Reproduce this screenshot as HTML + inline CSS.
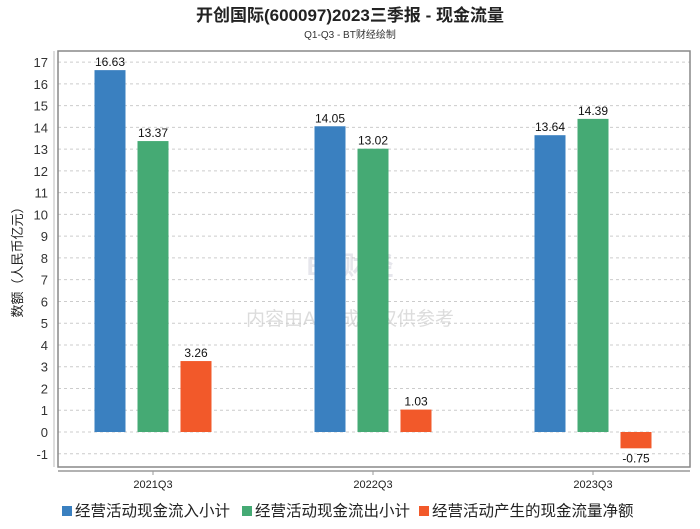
<!DOCTYPE html>
<html><head><meta charset="utf-8">
<style>
body{margin:0;background:#fff;}
svg text{font-family:"Liberation Sans","Noto Sans CJK SC",sans-serif;}
</style></head>
<body>
<svg id="c" width="700" height="524" xmlns="http://www.w3.org/2000/svg">
<rect width="700" height="524" fill="#fff"/>
<text x="350" y="21" text-anchor="middle" font-size="17" font-weight="bold" fill="#222">开创国际(600097)2023三季报 - 现金流量</text>
<text x="350" y="38" text-anchor="middle" font-size="10" fill="#333">Q1-Q3 - BT财经绘制</text>
<text x="350" y="275" text-anchor="middle" font-size="26" font-weight="bold" fill="#e6e6ec">BT财经</text>
<text x="350" y="325" text-anchor="middle" font-size="19" fill="#dcdcdc">内容由AI生成，仅供参考</text>
<g id="grid"></g>
<g id="bars"></g>
<rect x="58" y="51" width="632" height="416" fill="none" stroke="#888" stroke-width="1.5"/>
<line x1="58" y1="471" x2="690" y2="471" stroke="#999" stroke-width="1.5"/>
<line x1="54" y1="51" x2="54" y2="467" stroke="#bbb"/>
<text transform="translate(22,259) rotate(-90)" text-anchor="middle" font-size="13" fill="#222">数额（人民币亿元）</text>
<g id="legend"></g>
</svg>
<script>
const categories=["2021Q3","2022Q3","2023Q3"];
const inflow=[16.63,14.05,13.64];
const outflow=[13.37,13.02,14.39];
const net=[3.26,1.03,-0.75];
const yTicks=[-1,0,1,2,3,4,5,6,7,8,9,10,11,12,13,14,15,16,17];
const seriesNames=["经营活动现金流入小计","经营活动现金流出小计","经营活动产生的现金流量净额"];
const colors=["#3a80c0","#45aa74","#f2592a"];
const NS="http://www.w3.org/2000/svg";
const y=v=>432-v*21.76;
const xc=i=>153+i*220;
function mk(t,a,p){const e=document.createElementNS(NS,t);for(const k in a)e.setAttribute(k,a[k]);p.appendChild(e);return e;}
const grid=document.getElementById('grid');
yTicks.forEach(t=>{
  const l=mk('line',{x1:58,x2:690,y1:y(t),y2:y(t),stroke:'#ccc','stroke-dasharray':'3,3'},grid);
  
  
  const tx=mk('text',{x:48,y:y(t)+5,'text-anchor':'end','font-size':13,fill:'#333'},grid);
  tx.textContent=t;
  
  
});
const bars=document.getElementById('bars');
const series=[inflow,outflow,net];
categories.forEach((c,i)=>{
  series.forEach((s,j)=>{
    const v=s[i];const cx=xc(i)+(j-1)*43;
    const top=Math.min(y(v),y(0));const h=Math.abs(y(v)-y(0));
    const r=mk('rect',{x:cx-15.5,y:top,width:31,height:h,fill:colors[j]},bars);
    
    
    const ty=v>=0?y(v)-4:y(v)+14;
    const t=mk('text',{x:cx,y:ty,'text-anchor':'middle','font-size':12,fill:'#111'},bars);
    t.textContent=v.toFixed(2);
    
    
  });
  mk('line',{x1:xc(i),x2:xc(i),y1:471,y2:475,stroke:'#999'},bars);
  const lt=mk('text',{x:xc(i),y:488,'text-anchor':'middle','font-size':11,fill:'#222'},bars);
  lt.textContent=c;
  
  
});
const lg=document.getElementById('legend');
const lx=[62,242,419];
seriesNames.forEach((n,j)=>{
  const g=mk('g',{},lg);
  
  
  mk('rect',{x:lx[j],y:506,width:10,height:10,fill:colors[j]},g);
  const t=mk('text',{x:lx[j]+13,y:516,'font-size':15.5,fill:'#222'},g);
  t.textContent=n;
});
</script>
</body></html>
